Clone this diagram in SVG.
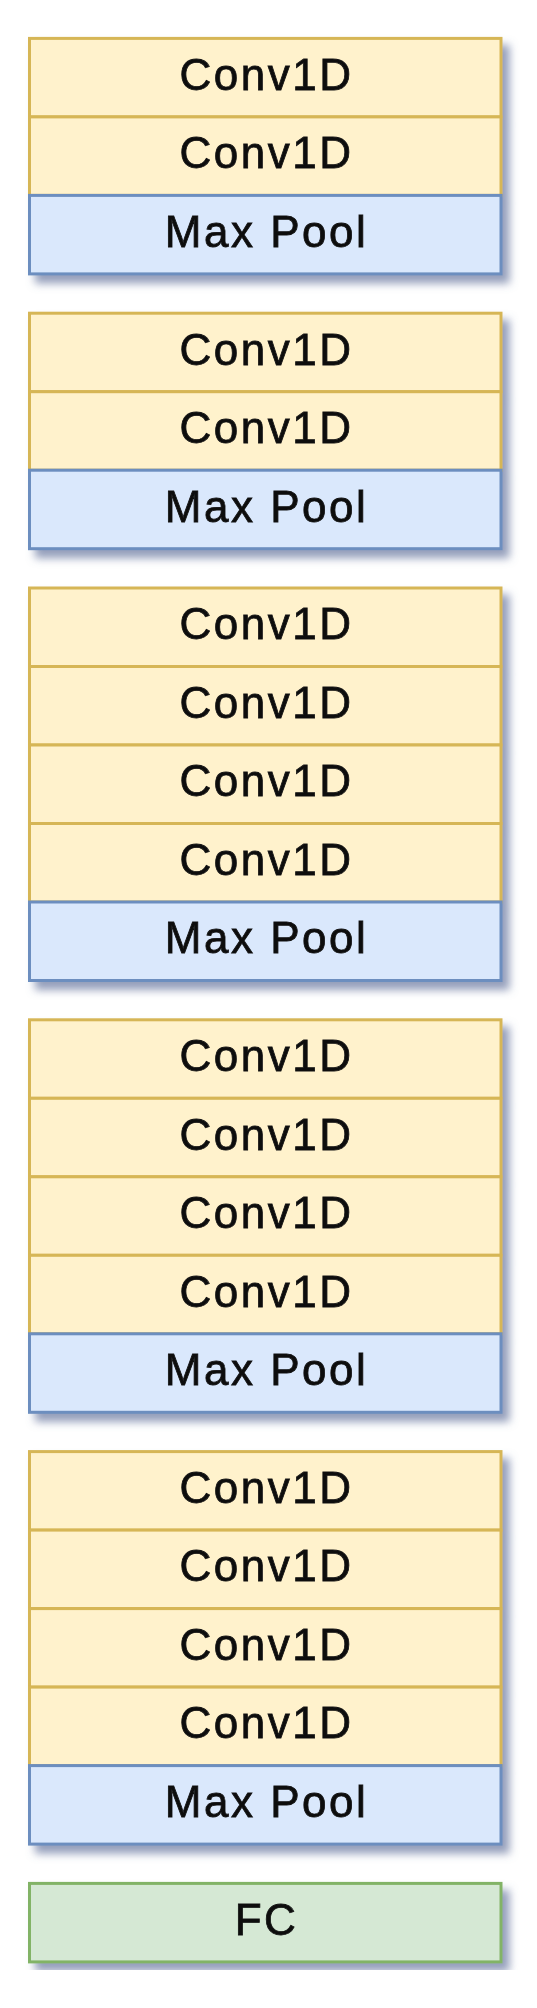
<svg xmlns="http://www.w3.org/2000/svg" width="537" height="2008" viewBox="0 0 537 2008">
<defs>
<filter id="sh" x="-5%" y="-5%" width="115%" height="115%">
<feDropShadow dx="7" dy="8" stdDeviation="4" flood-color="#66759e" flood-opacity="0.7"/>
</filter>
<style>
.conv{fill:#fff2cc;stroke:#d6b656;stroke-width:3}
.pool{fill:#dae8fc;stroke:#6c8ebf;stroke-width:3}
.fc{fill:#d5e8d4;stroke:#82b366;stroke-width:3}
text{font-family:"Liberation Sans",Arial,sans-serif;font-size:44px;fill:#111;stroke:#111;stroke-width:0.8px;text-anchor:middle;letter-spacing:2.5px}
</style>
</defs>
<rect width="537" height="2008" fill="#ffffff"/>
<g id="connectors"/>
<g id="block1" filter="url(#sh)">
<g id="b1-conv1"><rect class="conv" x="29.5" y="38.4" width="471.5" height="78.5"/><text x="266.5" y="89.7">Conv1D</text></g>
<g id="b1-conv2"><rect class="conv" x="29.5" y="116.9" width="471.5" height="78.5"/><text x="266.5" y="168.2">Conv1D</text></g>
<g id="b1-pool"><rect class="pool" x="29.5" y="195.4" width="471.5" height="78.5"/><text x="266.5" y="246.7">Max Pool</text></g>
</g>
<g id="block2" filter="url(#sh)">
<g id="b2-conv1"><rect class="conv" x="29.5" y="313.2" width="471.5" height="78.5"/><text x="266.5" y="364.5">Conv1D</text></g>
<g id="b2-conv2"><rect class="conv" x="29.5" y="391.7" width="471.5" height="78.5"/><text x="266.5" y="443">Conv1D</text></g>
<g id="b2-pool"><rect class="pool" x="29.5" y="470.2" width="471.5" height="78.5"/><text x="266.5" y="521.5">Max Pool</text></g>
</g>
<g id="block3" filter="url(#sh)">
<g id="b3-conv1"><rect class="conv" x="29.5" y="588" width="471.5" height="78.5"/><text x="266.5" y="639.3">Conv1D</text></g>
<g id="b3-conv2"><rect class="conv" x="29.5" y="666.5" width="471.5" height="78.5"/><text x="266.5" y="717.8">Conv1D</text></g>
<g id="b3-conv3"><rect class="conv" x="29.5" y="745" width="471.5" height="78.5"/><text x="266.5" y="796.3">Conv1D</text></g>
<g id="b3-conv4"><rect class="conv" x="29.5" y="823.5" width="471.5" height="78.5"/><text x="266.5" y="874.8">Conv1D</text></g>
<g id="b3-pool"><rect class="pool" x="29.5" y="902" width="471.5" height="78.5"/><text x="266.5" y="953.3">Max Pool</text></g>
</g>
<g id="block4" filter="url(#sh)">
<g id="b4-conv1"><rect class="conv" x="29.5" y="1019.8" width="471.5" height="78.5"/><text x="266.5" y="1071.1">Conv1D</text></g>
<g id="b4-conv2"><rect class="conv" x="29.5" y="1098.3" width="471.5" height="78.5"/><text x="266.5" y="1149.6">Conv1D</text></g>
<g id="b4-conv3"><rect class="conv" x="29.5" y="1176.8" width="471.5" height="78.5"/><text x="266.5" y="1228.1">Conv1D</text></g>
<g id="b4-conv4"><rect class="conv" x="29.5" y="1255.3" width="471.5" height="78.5"/><text x="266.5" y="1306.6">Conv1D</text></g>
<g id="b4-pool"><rect class="pool" x="29.5" y="1333.8" width="471.5" height="78.5"/><text x="266.5" y="1385.1">Max Pool</text></g>
</g>
<g id="block5" filter="url(#sh)">
<g id="b5-conv1"><rect class="conv" x="29.5" y="1451.6" width="471.5" height="78.5"/><text x="266.5" y="1502.9">Conv1D</text></g>
<g id="b5-conv2"><rect class="conv" x="29.5" y="1530.1" width="471.5" height="78.5"/><text x="266.5" y="1581.4">Conv1D</text></g>
<g id="b5-conv3"><rect class="conv" x="29.5" y="1608.6" width="471.5" height="78.5"/><text x="266.5" y="1659.9">Conv1D</text></g>
<g id="b5-conv4"><rect class="conv" x="29.5" y="1687.1" width="471.5" height="78.5"/><text x="266.5" y="1738.4">Conv1D</text></g>
<g id="b5-pool"><rect class="pool" x="29.5" y="1765.6" width="471.5" height="78.5"/><text x="266.5" y="1816.9">Max Pool</text></g>
</g>
<g id="fc" filter="url(#sh)">
<rect class="fc" x="29.5" y="1883.4" width="471.5" height="78.5"/><text x="266.5" y="1934.7">FC</text>
</g>
</svg>
